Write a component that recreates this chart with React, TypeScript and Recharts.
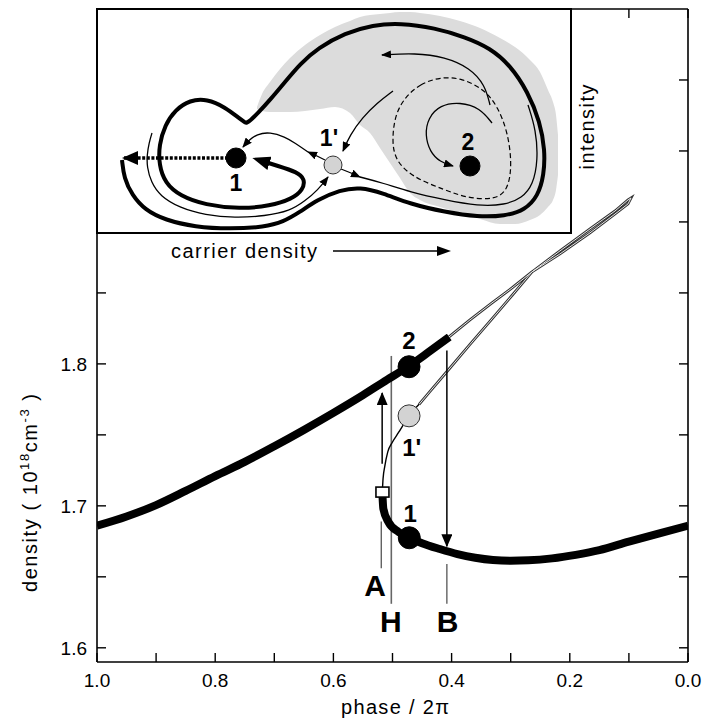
import React from 'react';
import { ComposedChart, Line, Scatter, Area, XAxis, YAxis } from 'recharts';

const FONT = '"Liberation Sans", Arial, Helvetica, sans-serif';

// ---------- main plot: phase / 2pi  vs  density (1e18 cm^-3) ----------
const phaseTicks = [0, 0.1, 0.2, 0.3, 0.4, 0.5, 0.6, 0.7, 0.8, 0.9, 1.0];
const phaseLabelled = [0, 0.2, 0.4, 0.6, 0.8, 1.0];
const densityTicks = [1.6, 1.65, 1.7, 1.75, 1.8, 1.85, 1.9, 1.95, 2.0];
const densityLabelled = [1.6, 1.7, 1.8];

const upperBranch = [
  { x: 1.0, y: 1.686 }, { x: 0.95, y: 1.6925 }, { x: 0.9, y: 1.7005 }, { x: 0.85, y: 1.7105 },
  { x: 0.8, y: 1.721 }, { x: 0.75, y: 1.731 }, { x: 0.7, y: 1.742 }, { x: 0.65, y: 1.7535 },
  { x: 0.6, y: 1.7655 }, { x: 0.55, y: 1.778 }, { x: 0.516, y: 1.787 }, { x: 0.472, y: 1.7985 },
  { x: 0.44, y: 1.808 }, { x: 0.404, y: 1.819 },
];
const lowerBranch = [
  { x: 0.517, y: 1.7075 }, { x: 0.5155, y: 1.698 }, { x: 0.507, y: 1.6887 }, { x: 0.49, y: 1.6817 },
  { x: 0.4716, y: 1.6775 }, { x: 0.45, y: 1.6737 }, { x: 0.42, y: 1.6696 }, { x: 0.39, y: 1.666 },
  { x: 0.36, y: 1.6634 }, { x: 0.33, y: 1.6618 }, { x: 0.3, y: 1.6613 }, { x: 0.27, y: 1.6616 },
  { x: 0.23, y: 1.663 }, { x: 0.19, y: 1.6655 }, { x: 0.15, y: 1.6688 }, { x: 0.1, y: 1.6748 },
  { x: 0.05, y: 1.6805 }, { x: 0.0, y: 1.686 },
];
const unstableBranch = [
  { x: 0.517, y: 1.7115 }, { x: 0.516, y: 1.719 }, { x: 0.513, y: 1.728 }, { x: 0.508, y: 1.738 },
  { x: 0.5, y: 1.745 }, { x: 0.49, y: 1.7515 }, { x: 0.472, y: 1.7634 }, { x: 0.455, y: 1.7715 },
];
const hollowLoop = [
  { x: 0.455, y: 1.7715 }, { x: 0.4365, y: 1.7806 }, { x: 0.406, y: 1.7955 }, { x: 0.3689, y: 1.8137 },
  { x: 0.3316, y: 1.8317 }, { x: 0.2978, y: 1.8482 }, { x: 0.264, y: 1.8648 }, { x: 0.2166, y: 1.8796 },
  { x: 0.1658, y: 1.8951 }, { x: 0.1235, y: 1.9077 }, { x: 0.1015, y: 1.9155 }, { x: 0.0964, y: 1.9169 },
  { x: 0.1015, y: 1.9127 }, { x: 0.1235, y: 1.9056 }, { x: 0.1658, y: 1.8923 }, { x: 0.2166, y: 1.8775 },
  { x: 0.264, y: 1.8648 }, { x: 0.2978, y: 1.8535 }, { x: 0.3316, y: 1.843 }, { x: 0.3689, y: 1.831 },
  { x: 0.4044, y: 1.819 },
];
const lineA = [{ x: 0.519, y: 1.689 }, { x: 0.519, y: 1.656 }];
const arrowUp = [{ x: 0.5175, y: 1.7296 }, { x: 0.5175, y: 1.7795 }];
const lineH = [{ x: 0.502, y: 1.8056 }, { x: 0.502, y: 1.631 }];
const arrowDown = [{ x: 0.408, y: 1.8094 }, { x: 0.408, y: 1.6715 }];
const lineB = [{ x: 0.408, y: 1.659 }, { x: 0.408, y: 1.631 }];

const stableDots = [{ x: 0.472, y: 1.798 }, { x: 0.4716, y: 1.6775 }];
const saddleDots = [{ x: 0.472, y: 1.7634 }];
const foldSquare = [{ x: 0.517, y: 1.7097 }];
const bigLabels = [
  { x: 0.5296, y: 1.6439, t: 'A' }, { x: 0.503, y: 1.6182, t: 'H' }, { x: 0.4066, y: 1.6182, t: 'B' },
];
const pointLabels = [
  { x: 0.472, y: 1.8164, t: '2' }, { x: 0.4675, y: 1.7413, t: "1'" }, { x: 0.47, y: 1.6944, t: '1' },
];

// ---------- inset: schematic phase space (carrier density vs intensity, arbitrary units) ----------
const toPts = (a: number[][]) => a.map(([x, y]) => ({ x, y }));

const insetGray = [
  [160, 124, 126], [165, 122, 139], [173, 121, 151], [183, 121, 164], [193, 121, 175], [208, 122, 188],
  [223, 124, 198], [238, 126, 206], [253, 120, 212], [263, 108, 216], [273, 100, 218], [283, 85, 219],
  [293, 70, 220], [303, 55, 221], [313, 40, 221], [323, 33, 220], [343, 26, 217], [363, 20, 212],
  [383, 14, 205], [403, 9, 195], [418, 9, 186], [433, 13, 173], [443, 18, 161], [451, 26, 143],
  [456, 33, 131], [459, 43, 118], [461, 58, 98],
].map(([x, lo, hi]) => ({ x, lo, hi }));

const outerThick = toPts([
  [25, 73], [27, 55], [35, 38], [48, 23], [68, 13], [98, 6], [133, 4], [168, 6], [186, 11], [203, 21],
  [220, 33], [243, 43], [263, 46], [286, 40], [313, 29], [348, 21], [381, 16], [408, 17], [428, 23],
  [441, 37], [447, 58], [448, 83], [443, 111], [431, 141], [413, 168], [393, 185], [368, 196], [338, 205],
  [303, 210], [276, 208], [248, 200], [221, 185], [203, 169], [188, 151], [173, 133], [161, 120],
  [153, 112], [149, 110], [149, 110], [143, 114], [128, 126], [110, 134], [93, 133], [78, 123], [68, 108],
  [62, 88], [62, 68], [68, 50], [83, 37], [108, 28], [143, 24], [173, 27], [195, 34], [206, 43],
  [208, 54], [200, 61], [181, 67], [162, 73],
]);
const thinToSaddle = toPts([
  [55, 100], [52, 90], [50, 78], [50, 66], [54, 51], [63, 37], [83, 25], [108, 18], [138, 15], [168, 17],
  [193, 22], [208, 32], [221, 43], [231, 56],
]);
const saddleLeftA = toPts([[228, 73], [220, 77], [211, 81]]);
const saddleLeftB = toPts([[211, 81], [198, 90], [188, 96], [173, 101], [160, 99], [151, 92], [146, 86]]);
const saddleRightA = toPts([[244, 64], [254, 60], [263, 56]]);
const saddleRightB = toPts([
  [263, 56], [286, 50], [313, 41], [348, 33], [381, 27], [408, 28], [425, 35], [436, 48], [441, 73],
  [439, 103], [431, 128],
]);
const intoSaddleTop = toPts([[296, 142], [280, 130], [265, 115], [253, 98], [246, 82]]);
const topArc = toPts([[393, 128], [388, 148], [373, 165], [348, 176], [318, 180], [285, 178]]);
const dashedCycle = toPts([
  [308, 136], [323, 149], [343, 156], [365, 155], [388, 143], [401, 126], [411, 100], [415, 68],
  [411, 43], [398, 33], [370, 35], [348, 43], [315, 56], [298, 73], [295, 93], [298, 118],
]);
const spiralTo2 = toPts([[395, 110], [383, 125], [363, 131], [343, 128], [331, 115], [328, 98], [333, 81], [343, 71], [356, 67]]);
const dottedEscape = toPts([[131, 75], [27, 75]]);
const insetStable = toPts([[139, 75], [373, 67]]);
const insetSaddle = toPts([[236, 68]]);
const insetLabels = [
  { x: 139, y: 50, t: '1' }, { x: 232, y: 95, t: "1'" }, { x: 371, y: 91, t: '2' },
];

// ---------- helpers ----------
const near = (list: number[], v: number) => list.some((t) => Math.abs(t - v) < 1e-6);
const fmtX = (v: number) => (near(phaseLabelled, v) ? v.toFixed(1) : '');
const fmtY = (v: number) => (near(densityLabelled, v) ? v.toFixed(1) : '');
const blank = () => '';
const axisLine = { stroke: '#000', strokeWidth: 1.6 };
const tickLine = { stroke: '#000', strokeWidth: 1.4 };
const tickText = { fill: '#000', fontSize: 19, fontFamily: FONT };

const circleShape = (r: number, fill: string, stroke: string, sw: number) => (p: any) => (
  <circle cx={p.cx} cy={p.cy} r={r} fill={fill} stroke={stroke} strokeWidth={sw} />
);
const rectShape = (w: number, h: number) => (p: any) => (
  <rect x={p.cx - w / 2} y={p.cy - h / 2} width={w} height={h} fill="#fff" stroke="#000" strokeWidth={1.6} />
);
const textShape = (fs: number) => (p: any) => (
  <text x={p.cx} y={p.cy} textAnchor="middle" dominantBaseline="central" fontFamily={FONT}
    fontWeight="bold" fontSize={fs} fill="#000">{p.payload.t}</text>
);

const L = (data: any[], props: any) => (
  <Line data={data} dataKey="y" dot={false} activeDot={false} isAnimationActive={false}
    legendType="none" {...props} />
);

export default function App() {
  return (
    <div style={{ position: 'absolute', left: 0, top: 0, width: 705, height: 721, background: '#fff' }}>
      <svg width={0} height={0} style={{ position: 'absolute' }}>
        <defs>
          <marker id="arrS" markerUnits="userSpaceOnUse" markerWidth={10} markerHeight={8}
            viewBox="0 0 10 8" refX={9} refY={4} orient="auto">
            <path d="M0,0 L10,4 L0,8 Z" fill="#000" />
          </marker>
          <marker id="arrM" markerUnits="userSpaceOnUse" markerWidth={13} markerHeight={11}
            viewBox="0 0 13 11" refX={12} refY={5.5} orient="auto">
            <path d="M0,0 L13,5.5 L0,11 Z" fill="#000" />
          </marker>
          <marker id="arrB" markerUnits="userSpaceOnUse" markerWidth={18} markerHeight={14}
            viewBox="0 0 18 14" refX={11} refY={7} orient="auto">
            <path d="M0,0 L18,7 L0,14 Z" fill="#000" />
          </marker>
          <marker id="arrD" markerUnits="userSpaceOnUse" markerWidth={16} markerHeight={14}
            viewBox="0 0 16 14" refX={14} refY={7} orient="auto">
            <path d="M0,0 L16,7 L0,14 Z" fill="#000" />
          </marker>
        </defs>
      </svg>

      <div style={{ position: 'absolute', left: 0, top: 0 }}>
        <ComposedChart width={705} height={721} margin={{ top: 8, right: 16, bottom: 29, left: 0 }}>
          <XAxis dataKey="x" type="number" domain={[0, 1]} reversed ticks={phaseTicks} interval={0}
            tickFormatter={fmtX} tickSize={-9} tickMargin={21} height={30} axisLine={axisLine}
            tickLine={tickLine} tick={tickText} allowDataOverflow />
          <XAxis xAxisId="top" orientation="top" dataKey="x" type="number" domain={[0, 1]} reversed
            ticks={phaseTicks} interval={0} tickFormatter={blank} tickSize={-9} height={1}
            axisLine={axisLine} tickLine={tickLine} tick={tickText} allowDataOverflow />
          <YAxis type="number" domain={[1.59, 2.05]} ticks={densityTicks} interval={0}
            tickFormatter={fmtY} tickSize={-9} tickMargin={19} width={97} axisLine={axisLine}
            tickLine={tickLine} tick={tickText} allowDataOverflow />
          <YAxis yAxisId="right" orientation="right" type="number" domain={[1.59, 2.05]}
            ticks={densityTicks} interval={0} tickFormatter={blank} tickSize={-9} width={1}
            axisLine={axisLine} tickLine={tickLine} tick={tickText} allowDataOverflow />

          {L(lineH, { type: 'linear', stroke: '#666', strokeWidth: 1.6 })}
          {L(lineA, { type: 'linear', stroke: '#555', strokeWidth: 1.3 })}
          {L(lineB, { type: 'linear', stroke: '#555', strokeWidth: 1.3 })}
          {L(hollowLoop, { type: 'linear', stroke: '#333', strokeWidth: 2.8 })}
          {L(hollowLoop, { type: 'linear', stroke: '#e8e8e8', strokeWidth: 1 })}
          {L(upperBranch, { type: 'monotone', stroke: '#000', strokeWidth: 8 })}
          {L(unstableBranch, { type: 'monotone', stroke: '#000', strokeWidth: 1.4 })}
          {L(lowerBranch, { type: 'monotone', stroke: '#000', strokeWidth: 8 })}
          {L(arrowUp, { type: 'linear', stroke: '#000', strokeWidth: 1.5, markerEnd: 'url(#arrM)' })}
          {L(arrowDown, { type: 'linear', stroke: '#000', strokeWidth: 1.5, markerEnd: 'url(#arrM)' })}

          <Scatter data={foldSquare} dataKey="y" shape={rectShape(13, 10)} isAnimationActive={false} />
          <Scatter data={stableDots} dataKey="y" shape={circleShape(11, '#000', '#000', 1)} isAnimationActive={false} />
          <Scatter data={saddleDots} dataKey="y" shape={circleShape(11, '#d3d3d3', '#333', 1)} isAnimationActive={false} />
          <Scatter data={bigLabels} dataKey="y" shape={textShape(30)} isAnimationActive={false} />
          <Scatter data={pointLabels} dataKey="y" shape={textShape(24)} isAnimationActive={false} />
        </ComposedChart>
      </div>

      {/* inset background */}
      <div style={{ position: 'absolute', left: 97, top: 9, width: 474, height: 224, background: '#fff' }} />
      <div style={{ position: 'absolute', left: 97, top: 9 }}>
        <ComposedChart width={474} height={224} margin={{ top: 0, right: 0, bottom: 0, left: 0 }}>
          <XAxis dataKey="x" type="number" domain={[0, 474]} hide allowDataOverflow />
          <YAxis type="number" domain={[0, 224]} hide allowDataOverflow />
          <Area data={insetGray} dataKey={(d: any) => [d.lo, d.hi]} type="monotone" fill="#dcdcdc"
            fillOpacity={1} stroke="none" dot={false} activeDot={false} isAnimationActive={false} />
          {L(dashedCycle, { type: 'basisClosed', stroke: '#000', strokeWidth: 1.2, strokeDasharray: '5 3' })}
          {L(outerThick, { type: 'basis', stroke: '#000', strokeWidth: 4, markerEnd: 'url(#arrB)' })}
          {L(thinToSaddle, { type: 'basis', stroke: '#000', strokeWidth: 1.3, markerEnd: 'url(#arrS)' })}
          {L(saddleLeftA, { type: 'linear', stroke: '#000', strokeWidth: 1.3, markerEnd: 'url(#arrS)' })}
          {L(saddleLeftB, { type: 'basis', stroke: '#000', strokeWidth: 1.3, markerEnd: 'url(#arrS)' })}
          {L(saddleRightA, { type: 'linear', stroke: '#000', strokeWidth: 1.3, markerEnd: 'url(#arrS)' })}
          {L(saddleRightB, { type: 'basis', stroke: '#000', strokeWidth: 1.3 })}
          {L(intoSaddleTop, { type: 'basis', stroke: '#000', strokeWidth: 1.3, markerEnd: 'url(#arrS)' })}
          {L(topArc, { type: 'basis', stroke: '#000', strokeWidth: 1.3, markerEnd: 'url(#arrS)' })}
          {L(spiralTo2, { type: 'basis', stroke: '#000', strokeWidth: 1.3, markerEnd: 'url(#arrS)' })}
          {L(dottedEscape, { type: 'linear', stroke: '#000', strokeWidth: 3.5, strokeDasharray: '3 1.6', markerEnd: 'url(#arrD)' })}
          <Scatter data={insetStable} dataKey="y" shape={circleShape(10, '#000', '#000', 1)} isAnimationActive={false} />
          <Scatter data={insetSaddle} dataKey="y" shape={circleShape(9, '#d3d3d3', '#333', 1)} isAnimationActive={false} />
          <Scatter data={insetLabels} dataKey="y" shape={textShape(23)} isAnimationActive={false} />
        </ComposedChart>
      </div>
      <div style={{ position: 'absolute', left: 96, top: 8, width: 476, height: 226, border: '2px solid #000', boxSizing: 'border-box' }} />

      {/* axis titles and inset captions */}
      <svg width={705} height={721} style={{ position: 'absolute', left: 0, top: 0, pointerEvents: 'none' }}
        fontFamily={FONT} fill="#000">
        <text transform="translate(37,493) rotate(-90)" textAnchor="middle" fontSize={20}
          textLength={198} lengthAdjust="spacing">
          density ( 10<tspan dy={-8} fontSize={13}>18</tspan><tspan dy={8}>cm</tspan>
          <tspan dy={-8} fontSize={13}>-3</tspan><tspan dy={8}> )</tspan>
        </text>
        <text x={395} y={714} textAnchor="middle" fontSize={20} textLength={108} lengthAdjust="spacing">phase / 2π</text>
        <text x={171} y={258} fontSize={20} textLength={146} lengthAdjust="spacing">carrier density</text>
        <line x1={333} y1={251} x2={440} y2={251} stroke="#000" strokeWidth={1.3} />
        <path d="M451,251 L437,246 L437,256 Z" fill="#000" />
        <text transform="translate(594,127) rotate(-90)" textAnchor="middle" fontSize={20}
          textLength={85} lengthAdjust="spacing">intensity</text>
      </svg>
    </div>
  );
}
